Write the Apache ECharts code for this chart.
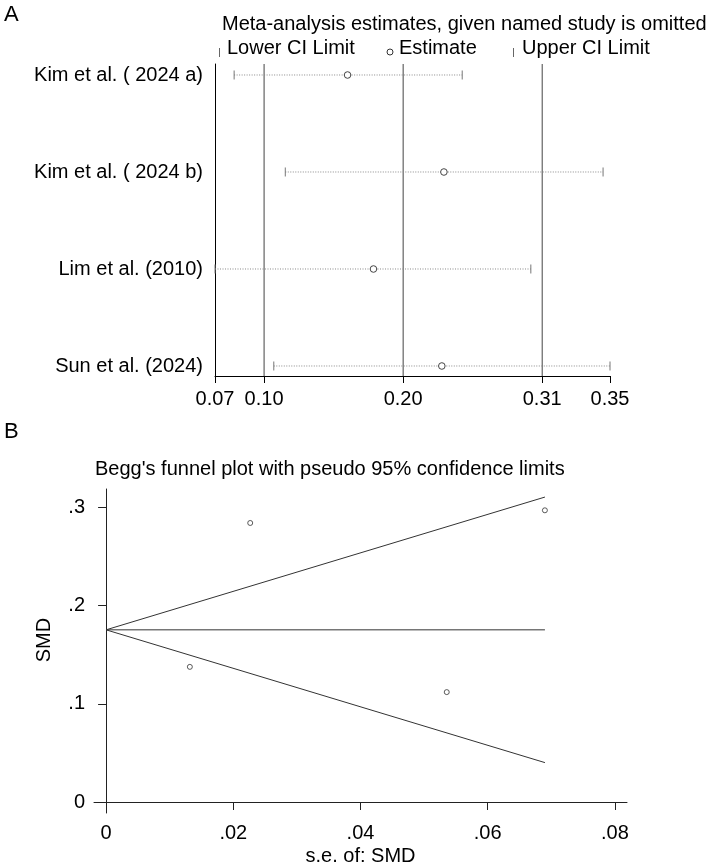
<!DOCTYPE html>
<html>
<head>
<meta charset="utf-8">
<script src="https://cdn.jsdelivr.net/npm/echarts@6/dist/echarts.min.js"></script>
<style>
html,body{margin:0;padding:0;background:#fff;}
#chart{width:709px;height:867px;}
</style>
</head>
<body>
<div id="chart"></div>
<script>
// ---------- Panel A: leave-one-out sensitivity ----------
const studies = ['Kim et al. ( 2024 a)', 'Kim et al. ( 2024 b)', 'Lim et al. (2010)', 'Sun et al. (2024)'];
const rowPos = [1, 2, 3, 4];
const lowerCI = [0.0830, 0.1199, 0.0692, 0.1116];
const estimate = [0.1648, 0.2343, 0.1835, 0.2328];
const upperCI = [0.2475, 0.3491, 0.2970, 0.3541];
const overallLines = [0.1046, 0.2049, 0.3052]; // overall lower CI, estimate, upper CI
const tickValuesA = [0.0692, 0.1046, 0.2049, 0.3052, 0.3541];
const tickLabelsA = ['0.07', '0.10', '0.20', '0.31', '0.35'];
const rowRange = [0.8866, 4.1031];

// ---------- Panel B: Begg's funnel plot ----------
const seSMD = [0.01317, 0.02266, 0.05356, 0.06899];
const smd = [0.1376, 0.2841, 0.1119, 0.2970];
const funnelSE = [0, 0.069];
const funnelMid = [0.1753, 0.1753];
const funnelUpper = [0.1753, 0.3105];
const funnelLower = [0.1753, 0.0401];
const tickValuesBx = [0, 0.02, 0.04, 0.06, 0.08];
const tickLabelsBx = ['0', '.02', '.04', '.06', '.08'];
const tickValuesBy = [0, 0.1, 0.2, 0.3];
const tickLabelsBy = ['0', '.1', '.2', '.3'];

const FONT = "'Liberation Sans', Arial, Helvetica, sans-serif";
function labelFor(values, labels) {
  return function (v) {
    let best = 0, d = Infinity;
    values.forEach((t, i) => { const dd = Math.abs(t - v); if (dd < d) { d = dd; best = i; } });
    return labels[best];
  };
}

const rowsData = rowPos.map((r, i) => [r, lowerCI[i], estimate[i], upperCI[i]]);
const refData = overallLines.map(v => [v, rowRange[0], rowRange[1]]);
const toPairs = (xs, ys) => xs.map((x, i) => [x, ys[i]]);

const chart = echarts.init(document.getElementById('chart'), null, {renderer: 'canvas'});
const txt = {fontFamily: FONT, fontSize: 20, color: '#000', fontWeight: 'normal'};

chart.setOption({
  backgroundColor: '#fff',
  animation: false,
  textStyle: {fontFamily: FONT},
  title: [
    {text: 'A', left: 4, top: 4, padding: 0, textStyle: Object.assign({}, txt, {fontSize: 22, lineHeight: 22})},
    {text: 'Meta-analysis estimates, given named study is omitted', left: 222, top: 14, padding: 0, textStyle: Object.assign({}, txt, {lineHeight: 20})},
    {text: 'B', left: 4, top: 421, padding: 0, textStyle: Object.assign({}, txt, {fontSize: 22, lineHeight: 22})},
    {text: "Begg's funnel plot with pseudo 95% confidence limits", left: 95, top: 459, padding: 0, textStyle: Object.assign({}, txt, {lineHeight: 20})}
  ],
  graphic: [
    {type: 'line', shape: {x1: 219.5, y1: 48, x2: 219.5, y2: 57}, style: {stroke: '#666', lineWidth: 1}},
    {type: 'text', left: 227, top: 38, style: {text: 'Lower CI Limit', font: '20px ' + FONT, fill: '#000'}},
    {type: 'circle', shape: {cx: 390, cy: 52, r: 3}, style: {fill: '#fff', stroke: '#333', lineWidth: 1}},
    {type: 'text', left: 399, top: 38, style: {text: 'Estimate', font: '20px ' + FONT, fill: '#000'}},
    {type: 'line', shape: {x1: 513.5, y1: 48, x2: 513.5, y2: 57}, style: {stroke: '#666', lineWidth: 1}},
    {type: 'text', left: 522, top: 38, style: {text: 'Upper CI Limit', font: '20px ' + FONT, fill: '#000'}}
  ],
  grid: [
    {left: 215, top: 64, width: 395, height: 312},
    {left: 94, top: 489, width: 533, height: 324}
  ],
  xAxis: [
    {
      gridIndex: 0, type: 'value', min: tickValuesA[0], max: tickValuesA[4],
      axisLine: {show: true, lineStyle: {color: '#000', width: 1}},
      axisTick: {show: true, length: 7, customValues: tickValuesA, lineStyle: {color: '#000'}},
      axisLabel: {customValues: tickValuesA, formatter: labelFor(tickValuesA, tickLabelsA), fontSize: 20, color: '#000', margin: 13, fontFamily: FONT, showMinLabel: true, showMaxLabel: true},
      splitLine: {show: false}
    },
    {
      gridIndex: 1, type: 'value', min: -0.0019, max: 0.0819,
      name: 's.e. of: SMD', nameLocation: 'middle', nameGap: 33,
      nameTextStyle: {fontSize: 20, color: '#000', fontFamily: FONT},
      axisLine: {show: true, lineStyle: {color: '#222', width: 1}},
      axisTick: {show: true, length: 8, customValues: tickValuesBx, lineStyle: {color: '#222'}},
      axisLabel: {customValues: tickValuesBx, formatter: labelFor(tickValuesBx, tickLabelsBx), fontSize: 20, color: '#000', margin: 10, fontFamily: FONT},
      splitLine: {show: false}
    }
  ],
  yAxis: [
    {
      gridIndex: 0, type: 'value', inverse: true, min: rowRange[0], max: rowRange[1],
      axisLine: {show: true, lineStyle: {color: '#000', width: 1}},
      axisTick: {show: false},
      axisLabel: {customValues: rowPos, formatter: labelFor(rowPos, studies), fontSize: 20, color: '#000', margin: 12, fontFamily: FONT, padding: [0, 0, 4, 0]},
      splitLine: {show: false}
    },
    {
      gridIndex: 1, type: 'value', min: -0.0112, max: 0.3187,
      name: 'SMD', nameLocation: 'middle', nameGap: 40,
      nameTextStyle: {fontSize: 20, color: '#000', fontFamily: FONT, padding: [0, 0, 0, 22]},
      axisLine: {show: true, lineStyle: {color: '#222', width: 1}},
      axisTick: {show: true, length: 8, customValues: tickValuesBy, lineStyle: {color: '#222'}},
      axisLabel: {customValues: tickValuesBy, formatter: labelFor(tickValuesBy, tickLabelsBy), fontSize: 20, color: '#000', margin: 9, fontFamily: FONT},
      splitLine: {show: false}
    }
  ],
  series: [
    {
      type: 'custom', name: 'Overall estimate and CI', xAxisIndex: 0, yAxisIndex: 0,
      data: refData, encode: {x: 0, y: [1, 2]}, clip: false, silent: true,
      renderItem: function (params, api) {
        const p1 = api.coord([api.value(0), api.value(1)]);
        const p2 = api.coord([api.value(0), api.value(2)]);
        return {type: 'line', shape: {x1: p1[0], y1: p1[1], x2: p2[0], y2: p2[1]}, style: {stroke: '#444', lineWidth: 1}};
      },
      z: 2
    },
    {
      type: 'custom', name: 'Omitted-study estimates', xAxisIndex: 0, yAxisIndex: 0,
      data: rowsData, encode: {x: [1, 2, 3], y: 0}, clip: false,
      renderItem: function (params, api) {
        const row = api.value(0);
        const pLo = api.coord([api.value(1), row]);
        const pEst = api.coord([api.value(2), row]);
        const pHi = api.coord([api.value(3), row]);
        const y = pLo[1];
        return {
          type: 'group',
          children: [
            {type: 'line', shape: {x1: pLo[0], y1: y, x2: pHi[0], y2: y}, style: {stroke: '#8a8a8a', lineWidth: 1, lineDash: [1, 1.5]}},
            {type: 'line', shape: {x1: pLo[0], y1: y - 4.5, x2: pLo[0], y2: y + 4.5}, style: {stroke: '#777', lineWidth: 1}},
            {type: 'line', shape: {x1: pHi[0], y1: y - 4.5, x2: pHi[0], y2: y + 4.5}, style: {stroke: '#777', lineWidth: 1}},
            {type: 'circle', shape: {cx: pEst[0], cy: y, r: 3.3}, style: {fill: '#fff', stroke: '#444', lineWidth: 1}}
          ]
        };
      },
      z: 3
    },
    {
      type: 'line', name: 'Upper limit', xAxisIndex: 1, yAxisIndex: 1,
      data: toPairs(funnelSE, funnelUpper), symbol: 'none',
      lineStyle: {color: '#333', width: 1}
    },
    {
      type: 'line', name: 'Pooled', xAxisIndex: 1, yAxisIndex: 1,
      data: toPairs(funnelSE, funnelMid), symbol: 'none',
      lineStyle: {color: '#333', width: 1}
    },
    {
      type: 'line', name: 'Lower limit', xAxisIndex: 1, yAxisIndex: 1,
      data: toPairs(funnelSE, funnelLower), symbol: 'none',
      lineStyle: {color: '#333', width: 1}
    },
    {
      type: 'scatter', name: 'Studies', xAxisIndex: 1, yAxisIndex: 1,
      data: toPairs(seSMD, smd), symbol: 'circle', symbolSize: 5,
      itemStyle: {color: '#fff', borderColor: '#333', borderWidth: 1}
    }
  ]
});
</script>
</body>
</html>
